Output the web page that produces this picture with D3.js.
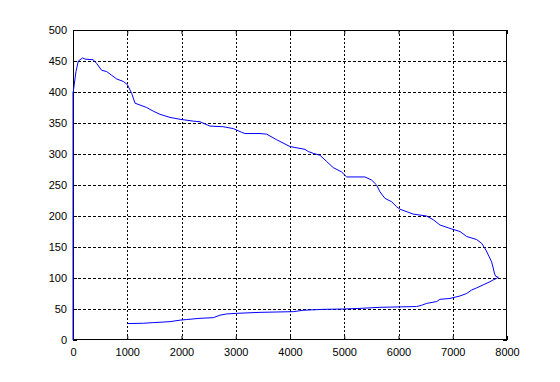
<!DOCTYPE html>
<html>
<head>
<meta charset="utf-8">
<script src="https://cdn.jsdelivr.net/npm/d3@7"></script>
<style>
  html, body { margin: 0; padding: 0; background: #fff; }
  svg text { font-family: "Liberation Sans", Arial, sans-serif; font-size: 11px; fill: #000; }
</style>
</head>
<body>
<svg id="chart" width="560" height="382"></svg>
<script>
// Data: x values and y values of the single traced curve
const xValues = [0, 0, 6, 55, 98, 178, 221, 374, 436, 528, 620, 713, 805, 928, 1001, 1081, 1143, 1235, 1358, 1481, 1604, 1788, 1972, 2218, 2341, 2525, 2770, 2955, 3109, 3170, 3447, 3570, 3754, 4000, 4184, 4276, 4337, 4430, 4552, 4675, 4798, 4952, 5044, 5381, 5504, 5596, 5658, 5750, 5873, 5965, 6027, 6272, 6518, 6641, 6764, 6948, 7133, 7256, 7440, 7532, 7612, 7673, 7716, 7747, 7766, 7790, 7840, 7800, 7747, 7686, 7563, 7440, 7348, 7256, 7133, 6948, 6764, 6703, 6518, 6426, 6334, 5658, 5289, 4982, 4614, 4245, 4061, 3447, 3016, 2832, 2709, 2586, 2341, 2095, 1972, 1788, 1481, 1297, 1007];
const yValues = [0, 400, 401, 433, 450, 455, 453, 452, 446, 435, 433, 427, 421, 417, 412, 398, 382, 379, 375, 369, 364, 359, 356, 353, 352, 345, 344, 341, 335, 333, 333, 332, 323, 312, 309, 307.5, 304, 301, 298, 288, 278, 271, 263, 263, 258, 250, 239, 228.5, 223, 215, 211, 203, 200, 194, 185.5, 180, 175, 167, 162, 156, 145, 134, 126, 116, 108, 103, 101, 99, 97, 94, 89, 84, 80.6, 75, 71, 67, 65.6, 62, 59, 56, 54, 52.7, 51, 50, 49.4, 48, 45.7, 44.6, 43, 42, 40, 36, 35, 33, 32, 29.6, 28, 27, 26.5];
const xTicks = [0, 1000, 2000, 3000, 4000, 5000, 6000, 7000, 8000];
const yTicks = [0, 50, 100, 150, 200, 250, 300, 350, 400, 450, 500];

const svg = d3.select("#chart");
const mLeft = 73, mRight = 507, mTop = 30, mBottom = 340;

const x = d3.scaleLinear().domain([0, 8000]).range([mLeft, mRight]);
const y = d3.scaleLinear().domain([0, 500]).range([mBottom, mTop]);

// grid
const grid = svg.append("g");
grid.selectAll(".vg").data(xTicks.slice(1, -1)).enter().append("line")
  .attr("x1", d => Math.round(x(d)) + 0.5).attr("x2", d => Math.round(x(d)) + 0.5)
  .attr("y1", mTop).attr("y2", mBottom)
  .attr("stroke", "#000").attr("stroke-width", 1).attr("stroke-dasharray", "2,2");
grid.selectAll(".hg").data(yTicks.slice(1, -1)).enter().append("line")
  .attr("y1", d => Math.round(y(d)) + 0.5).attr("y2", d => Math.round(y(d)) + 0.5)
  .attr("x1", mLeft).attr("x2", mRight)
  .attr("stroke", "#000").attr("stroke-width", 1).attr("stroke-dasharray", "3,2");

// axes (ticks inside)
const tickLen = 4;
const fmt = d3.format("d");
const xAxisB = d3.axisBottom(x).tickValues(xTicks).tickFormat(fmt).tickSizeInner(-tickLen).tickSizeOuter(0).tickPadding(8);
const xAxisT = d3.axisTop(x).tickValues(xTicks).tickSizeInner(-tickLen).tickSizeOuter(0).tickFormat("");
const yAxisL = d3.axisLeft(y).tickValues(yTicks).tickFormat(fmt).tickSizeInner(-tickLen).tickSizeOuter(0).tickPadding(6);
const yAxisR = d3.axisRight(y).tickValues(yTicks).tickSizeInner(-tickLen).tickSizeOuter(0).tickFormat("");

function styleAxis(g) {
  g.select(".domain").remove();
  g.selectAll("line").attr("stroke", "#000");
  g.selectAll("text").attr("fill", "#000").style("font-family", "'Liberation Sans', Arial, sans-serif").style("font-size", "11px");
}
svg.append("g").attr("transform", `translate(0,${mBottom})`).call(xAxisB).call(styleAxis);
svg.append("g").attr("transform", `translate(0,${mTop})`).call(xAxisT).call(styleAxis);
svg.append("g").attr("transform", `translate(${mLeft},0)`).call(yAxisL).call(styleAxis);
svg.append("g").attr("transform", `translate(${mRight},0)`).call(yAxisR).call(styleAxis);

// box
svg.append("rect").attr("x", mLeft + 0.5).attr("y", mTop + 0.5)
  .attr("width", mRight - mLeft - 1).attr("height", mBottom - mTop - 1)
  .attr("fill", "none").attr("stroke", "#000").attr("stroke-width", 1);

// curve
const pts = xValues.map((v, i) => [v, yValues[i]]);
const line = d3.line().x(d => x(d[0])).y(d => y(d[1]));
svg.append("path").datum(pts).attr("d", line)
  .attr("fill", "none").attr("stroke", "#0000ff").attr("stroke-width", 1);
</script>
</body>
</html>
